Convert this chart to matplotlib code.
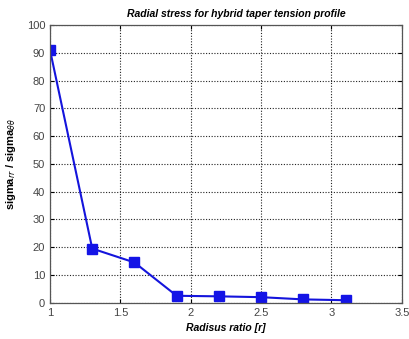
import matplotlib
matplotlib.use("Agg")
import matplotlib.pyplot as plt

# radial stress ratio along the radius
radius_ratio = [1.0, 1.3, 1.6, 1.9, 2.2, 2.5, 2.8, 3.1]
stress_ratio = [91.0, 19.5, 14.5, 2.5, 2.3, 2.0, 1.2, 0.9]

plt.rcParams["font.family"] = ["Liberation Sans", "DejaVu Sans"]

fig = plt.figure(figsize=(4.1, 3.39), dpi=100)
ax = fig.add_axes([0.122, 0.107, 0.858, 0.819])

ax.plot(radius_ratio, stress_ratio, color="#1414dc", linewidth=1.5,
        marker="s", markersize=6.5, markerfacecolor="#1414e6", markeredgecolor="#1414e6")

ax.set_xlim(1, 3.5)
ax.set_ylim(0, 100)
ax.set_xticks([1, 1.5, 2, 2.5, 3, 3.5])
ax.set_xticklabels(["1", "1.5", "2", "2.5", "3", "3.5"])
ax.set_yticks(range(0, 101, 10))

ax.grid(True, color="#222222", linestyle=(0, (1, 1.5)), linewidth=0.8)
ax.tick_params(direction="in", top=True, right=True, labelsize=8, labelcolor="#444444", length=3)
for s in ax.spines.values():
    s.set_color("#555555")
    s.set_linewidth(0.9)

ax.set_title("Radial stress for hybrid taper tension profile", fontsize=7.5,
             fontweight="bold", style="italic", pad=6, x=0.53)
ax.set_xlabel("Radisus ratio [r]", fontsize=7.5, fontweight="bold", style="italic", labelpad=4)
ax.set_ylabel(r"sigma$_{rr}$ / sigma$_{\theta\theta}$", fontsize=8, fontweight="bold", labelpad=6)

fig.savefig("out.png", dpi=100)
